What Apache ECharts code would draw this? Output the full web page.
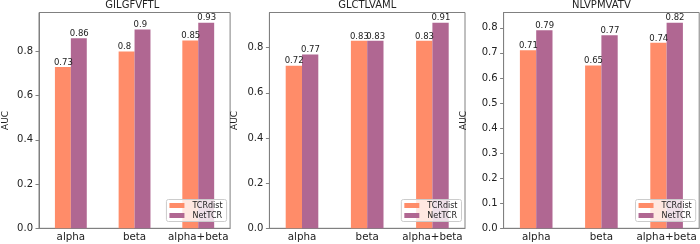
<!DOCTYPE html>
<html>
<head>
<meta charset="utf-8">
<script src="https://cdn.jsdelivr.net/npm/echarts@6/dist/echarts.min.js"></script>
<style>
  html, body { margin: 0; padding: 0; background: #fff; }
  #chart { width: 700px; height: 244px; }
</style>
</head>
<body>
<div id="chart"></div>
<script>
// 数据
const categories = ['alpha', 'beta', 'alpha+beta']
const seriesNames = ['TCRdist', 'NetTCR']
const panelTitles = ['GILGFVFTL', 'GLCTLVAML', 'NLVPMVATV']

const tcrdistGIL = [0.73, 0.8, 0.85]
const nettcrGIL = [0.86, 0.9, 0.93]
const tcrdistGLC = [0.72, 0.83, 0.83]
const nettcrGLC = [0.77, 0.83, 0.91]
const tcrdistNLV = [0.71, 0.65, 0.74]
const nettcrNLV = [0.79, 0.77, 0.82]

const yTicksGIL = [0, 0.2, 0.4, 0.6, 0.8]
const yTicksGLC = [0, 0.2, 0.4, 0.6, 0.8]
const yTicksNLV = [0, 0.1, 0.2, 0.3, 0.4, 0.5, 0.6, 0.7, 0.8]
const yMaxList = [0.9765, 0.9555, 0.861]

const panels = [
  { title: panelTitles[0], a: tcrdistGIL, b: nettcrGIL, ticks: yTicksGIL, max: yMaxList[0], left: 34.5, nameGap: 29 },
  { title: panelTitles[1], a: tcrdistGLC, b: nettcrGLC, ticks: yTicksGLC, max: yMaxList[1], left: 269.4, nameGap: 30 },
  { title: panelTitles[2], a: tcrdistNLV, b: nettcrNLV, ticks: yTicksNLV, max: yMaxList[2], left: 503.6, nameGap: 35 }
]

const colors = ['#FF8C69', '#B06792']
const font = 'DejaVu Sans'
const textColor = '#222'
const lineColor = '#808080'
const panelWidth = 195.6
const gridTop = 12.5
const gridBottom = 15.7

const option = {
  animation: false,
  textStyle: { fontFamily: font },
  title: [],
  legend: [],
  grid: [],
  xAxis: [],
  yAxis: [],
  series: []
}

panels.forEach((p, i) => {
  option.grid.push({
    left: p.left,
    width: panelWidth,
    top: gridTop,
    bottom: gridBottom,
    show: true,
    borderColor: lineColor,
    borderWidth: 1,
    backgroundColor: 'transparent'
  })
  option.title.push({
    text: p.title,
    left: p.left + panelWidth / 2,
    textAlign: 'center',
    top: 0,
    padding: 0,
    textStyle: { fontFamily: font, fontSize: 10, fontWeight: 'normal', color: textColor }
  })
  option.legend.push({
    data: seriesNames,
    orient: 'vertical',
    right: 700 - (p.left + panelWidth - 3.5),
    bottom: 22.5,
    itemWidth: 15,
    itemHeight: 5,
    itemGap: 0,
    padding: [1, 4, 1, 3],
    borderColor: '#ccc',
    borderWidth: 1,
    borderRadius: 2,
    backgroundColor: 'rgba(255,255,255,0.8)',
    icon: 'rect',
    selectedMode: false,
    textStyle: { fontFamily: font, fontSize: 8, color: textColor, lineHeight: 10, padding: [0, 0, 0, 3] }
  })
  option.xAxis.push({
    type: 'category',
    gridIndex: i,
    data: categories,
    boundaryGap: true,
    axisLine: { lineStyle: { color: lineColor, width: 1 } },
    axisTick: { alignWithLabel: true, interval: 0, length: 3.5, lineStyle: { color: lineColor } },
    axisLabel: { interval: 0, hideOverlap: false, fontFamily: font, fontSize: 10.3, color: textColor, margin: 4 },
    splitLine: { show: false }
  })
  option.yAxis.push({
    type: 'value',
    gridIndex: i,
    min: 0,
    max: p.max,
    name: 'AUC',
    nameLocation: 'middle',
    nameRotate: 90,
    nameGap: p.nameGap,
    nameTextStyle: { fontFamily: font, fontSize: 9, color: textColor },
    axisLine: { show: true, lineStyle: { color: lineColor, width: 1 } },
    axisTick: { show: true, length: 3.5, customValues: p.ticks, lineStyle: { color: lineColor } },
    axisLabel: {
      fontFamily: font, fontSize: 10, color: textColor, margin: 6,
      customValues: p.ticks,
      formatter: v => v.toFixed(1)
    },
    splitLine: { show: false }
  })
  ;[p.a, p.b].forEach((vals, k) => {
    option.series.push({
      name: seriesNames[k],
      type: 'bar',
      xAxisIndex: i,
      yAxisIndex: i,
      data: vals,
      barWidth: '25%',
      barGap: '0%',
      itemStyle: { color: colors[k] },
      label: {
        show: true,
        position: [-1, 0],
        align: 'left',
        verticalAlign: 'bottom',
        fontFamily: font,
        fontSize: 8.5,
        color: textColor,
        formatter: d => String(d.value)
      }
    })
  })
})

const chart = echarts.init(document.getElementById('chart'), null, { renderer: 'canvas' })
chart.setOption(option)
</script>
</body>
</html>
